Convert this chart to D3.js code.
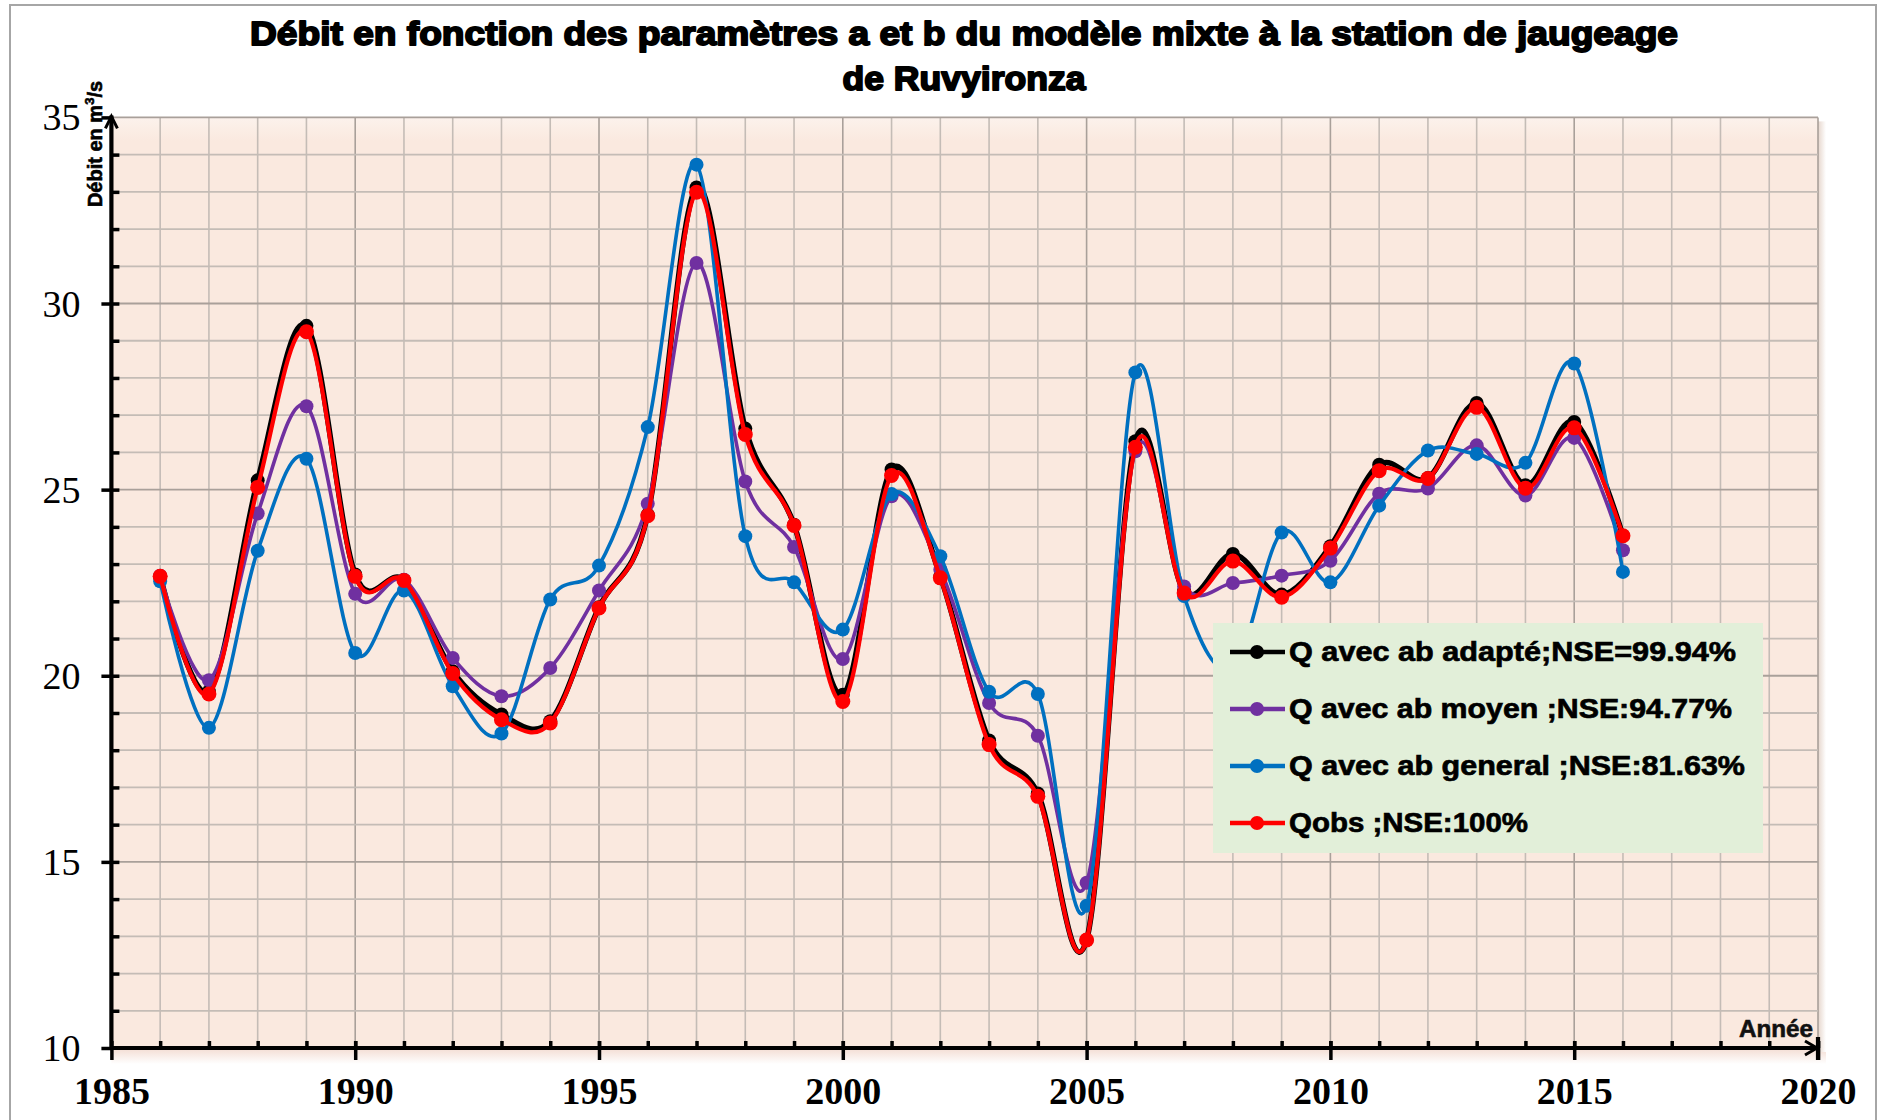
<!DOCTYPE html>
<html>
<head>
<meta charset="utf-8">
<script src="https://cdn.jsdelivr.net/npm/d3@7"></script>
<style>
  body { margin: 0; background: #fff; }
  svg { display: block; }
</style>
</head>
<body>
<svg id="chart" width="1878" height="1120"></svg>
<script>
var years = d3.range(1986, 2017);

var qAdapte = [22.67, 19.58, 25.25, 29.40, 22.72, 22.57, 20.12, 18.96, 18.78, 21.84, 24.33,
  33.12, 26.64, 24.06, 19.49, 25.54, 22.67, 18.26, 16.84, 12.90, 26.30, 22.27, 23.27, 22.18,
  23.48, 25.67, 25.31, 27.33, 25.12, 26.82, 23.76];
var qMoyen = [22.69, 19.88, 24.36, 27.24, 22.20, 22.58, 20.48, 19.45, 20.21, 22.29, 24.62,
  31.09, 25.22, 23.46, 20.45, 24.82, 22.85, 19.27, 18.39, 14.44, 26.03, 22.40, 22.49, 22.69,
  23.09, 24.89, 25.03, 26.19, 24.84, 26.39, 23.37];
var qGeneral = [22.54, 18.60, 23.36, 25.83, 20.61, 22.29, 19.72, 18.45, 22.05, 22.96, 26.68,
  33.73, 23.75, 22.51, 21.24, 24.88, 23.21, 19.57, 19.51, 13.82, 28.15, 22.14, 20.20, 23.85,
  22.51, 24.57, 26.05, 25.96, 25.72, 28.39, 22.79];
var qObs = [22.67, 19.51, 25.06, 29.24, 22.67, 22.56, 20.06, 18.82, 18.73, 21.82, 24.30,
  32.99, 26.48, 24.04, 19.31, 25.38, 22.63, 18.15, 16.76, 12.90, 26.14, 22.22, 23.08, 22.11,
  23.43, 25.51, 25.30, 27.21, 25.04, 26.66, 23.76];

var seriesNames = ["Q avec ab adapté;NSE=99.94%", "Q avec ab moyen ;NSE:94.77%",
  "Q avec ab general ;NSE:81.63%", "Qobs ;NSE:100%"];
var xTicks = [1985, 1990, 1995, 2000, 2005, 2010, 2015, 2020];
var yTicks = [10, 15, 20, 25, 30, 35];

var series = [
  { name: seriesNames[0], values: qAdapte, color: "#000000", width: 5.5, r: 7 },
  { name: seriesNames[1], values: qMoyen, color: "#7030a0", width: 3.6, r: 7 },
  { name: seriesNames[2], values: qGeneral, color: "#0070c0", width: 3.6, r: 7 },
  { name: seriesNames[3], values: qObs, color: "#ff0000", width: 4.2, r: 7.5 }
];

var svg = d3.select("#chart");
var plot = { left: 111.4, right: 1818, top: 117.4, bottom: 1048 };

var x = d3.scaleLinear().domain([1985, 2020]).range([plot.left, plot.right]);
var y = d3.scaleLinear().domain([10, 35]).range([plot.bottom, plot.top]);

// outer frame
svg.append("rect")
  .attr("x", 10).attr("y", 5).attr("width", 1866).attr("height", 1130)
  .attr("fill", "#fff").attr("stroke", "#a6a6a6").attr("stroke-width", 2);

var defs = svg.append("defs");
var bg = defs.append("linearGradient").attr("id", "plot-bg")
  .attr("x1", 0).attr("y1", 0).attr("x2", 0).attr("y2", 1);
bg.append("stop").attr("offset", "0%").attr("stop-color", "#fcf2ec");
bg.append("stop").attr("offset", "2.5%").attr("stop-color", "#fae9df");
bg.append("stop").attr("offset", "100%").attr("stop-color", "#fae9df");

var shade = defs.append("linearGradient").attr("id", "shade-bottom")
  .attr("x1", 0).attr("y1", 0).attr("x2", 0).attr("y2", 1);
shade.append("stop").attr("offset", "0%").attr("stop-color", "#f3dcd2");
shade.append("stop").attr("offset", "100%").attr("stop-color", "#ffffff");

var shadeR = defs.append("linearGradient").attr("id", "shade-right")
  .attr("x1", 0).attr("y1", 0).attr("x2", 1).attr("y2", 0);
shadeR.append("stop").attr("offset", "0%").attr("stop-color", "#e6d6cc");
shadeR.append("stop").attr("offset", "100%").attr("stop-color", "#ffffff");

// shadow + plot area
svg.append("rect")
  .attr("x", plot.left).attr("y", plot.bottom).attr("width", plot.right - plot.left + 8).attr("height", 16)
  .attr("fill", "url(#shade-bottom)");
svg.append("rect")
  .attr("x", plot.right).attr("y", plot.top + 4).attr("width", 8).attr("height", plot.bottom - plot.top)
  .attr("fill", "url(#shade-right)");
svg.append("rect")
  .attr("x", plot.left).attr("y", plot.top)
  .attr("width", plot.right - plot.left).attr("height", plot.bottom - plot.top)
  .attr("fill", "url(#plot-bg)");

// grid
var grid = svg.append("g");
grid.selectAll(".vgrid")
  .data(d3.range(1986, 2021))
  .enter().append("line")
    .attr("x1", function(d) { return x(d); })
    .attr("x2", function(d) { return x(d); })
    .attr("y1", plot.top).attr("y2", plot.bottom)
    .attr("stroke", function(d) { return d % 5 === 0 ? "#a9a09a" : "#c4bcb6"; })
    .attr("stroke-width", 1.6);
grid.selectAll(".hgrid")
  .data(d3.range(11, 36))
  .enter().append("line")
    .attr("x1", plot.left).attr("x2", plot.right)
    .attr("y1", function(d) { return y(d); })
    .attr("y2", function(d) { return y(d); })
    .attr("stroke", function(d) { return d % 5 === 0 ? "#a9a09a" : "#c4bcb6"; })
    .attr("stroke-width", 1.8);

// axes
var xMinor = svg.append("g")
  .attr("transform", "translate(0," + plot.bottom + ")")
  .call(d3.axisBottom(x).tickValues(d3.range(1986, 2021)).tickSize(-7).tickFormat(""));
var xMajor = svg.append("g")
  .attr("transform", "translate(0," + plot.bottom + ")")
  .call(d3.axisBottom(x).tickValues(xTicks).tickSize(12).tickPadding(17).tickFormat(d3.format("d")));
xMajor.selectAll(".tick line").attr("y1", -7);
xMajor.selectAll("text")
  .attr("font-family", "Liberation Serif, Times New Roman, serif")
  .attr("font-weight", "bold").attr("font-size", 38).attr("fill", "#000");

var yMinor = svg.append("g")
  .attr("transform", "translate(" + plot.left + ",0)")
  .call(d3.axisLeft(y).tickValues(d3.range(11, 35)).tickSize(-8).tickFormat(""));
var yMajor = svg.append("g")
  .attr("transform", "translate(" + plot.left + ",0)")
  .call(d3.axisLeft(y).tickValues(yTicks).tickSize(10).tickPadding(21));
yMajor.selectAll("text")
  .attr("font-family", "Liberation Serif, Times New Roman, serif")
  .attr("font-size", 38).attr("fill", "#000").attr("dy", "0.33em");

svg.selectAll(".domain").remove();
svg.selectAll(".tick line").attr("stroke", "#000").attr("stroke-width", 3.5);

// axis lines with arrows
var axisG = svg.append("g").attr("stroke", "#000").attr("fill", "none")
  .attr("stroke-width", 4.2);
axisG.append("line")
  .attr("x1", x(1985)).attr("x2", x(2020)).attr("y1", y(10)).attr("y2", y(10));
axisG.append("line")
  .attr("x1", x(1985)).attr("x2", x(1985)).attr("y1", y(10)).attr("y2", y(35) - 2);
axisG.append("path")
  .attr("stroke-width", 3)
  .attr("d", "M" + (x(1985) - 6) + "," + (y(35) + 11) + "L" + x(1985) + "," + (y(35) - 1) +
    "L" + (x(1985) + 6) + "," + (y(35) + 11));
axisG.append("path")
  .attr("stroke-width", 3)
  .attr("d", "M" + (x(2020) - 13) + "," + (y(10) - 7) + "L" + (x(2020) - 1) + "," + y(10) +
    "L" + (x(2020) - 13) + "," + (y(10) + 7));
axisG.append("line")
  .attr("x1", x(2020)).attr("x2", x(2020)).attr("y1", y(10) - 11).attr("y2", y(10) + 12);

// series
var line = d3.line()
  .x(function(d, i) { return x(years[i]); })
  .y(function(d) { return y(d); })
  .curve(d3.curveCatmullRom.alpha(0));

series.forEach(function(s) {
  var g = svg.append("g");
  g.append("path")
    .datum(s.values)
    .attr("d", line)
    .attr("fill", "none")
    .attr("stroke", s.color)
    .attr("stroke-width", s.width)
    .attr("stroke-linejoin", "round");
  g.selectAll("circle")
    .data(s.values)
    .enter().append("circle")
      .attr("cx", function(d, i) { return x(years[i]); })
      .attr("cy", function(d) { return y(d); })
      .attr("r", s.r)
      .attr("fill", s.color);
});

// legend
var legend = svg.append("g");
legend.append("rect")
  .attr("x", 1213).attr("y", 623).attr("width", 550).attr("height", 230)
  .attr("fill", "#e2efd9");
var legendWidths = [447, 443, 456, 239];
series.forEach(function(s, i) {
  var cy = 652 + i * 57;
  legend.append("line")
    .attr("x1", 1230).attr("x2", 1285).attr("y1", cy).attr("y2", cy)
    .attr("stroke", s.color).attr("stroke-width", 4.5);
  legend.append("circle")
    .attr("cx", 1257).attr("cy", cy).attr("r", 7).attr("fill", s.color);
  legend.append("text")
    .attr("x", 1289).attr("y", cy + 9)
    .attr("font-family", "Liberation Sans, Arial, sans-serif")
    .attr("font-weight", "bold").attr("font-size", 28)
    .attr("textLength", legendWidths[i]).attr("lengthAdjust", "spacingAndGlyphs")
    .attr("fill", "#000").attr("stroke", "#000").attr("stroke-width", 0.7)
    .text(s.name);
});

// title
var title = svg.append("g")
  .attr("font-family", "Liberation Sans, Arial, sans-serif")
  .attr("font-weight", "bold").attr("font-size", 34)
  .attr("text-anchor", "middle").attr("fill", "#000")
  .attr("stroke", "#000").attr("stroke-width", 1.9).attr("stroke-linejoin", "round");
title.append("text").attr("x", 964).attr("y", 45)
  .attr("textLength", 1428).attr("lengthAdjust", "spacingAndGlyphs")
  .text("Débit en fonction des paramètres a et b du modèle mixte à la station de jaugeage");
title.append("text").attr("x", 964).attr("y", 90)
  .attr("textLength", 243).attr("lengthAdjust", "spacingAndGlyphs")
  .text("de Ruvyironza");

// axis titles
var yTitle = svg.append("text")
  .attr("transform", "translate(101.5,144) rotate(-90)")
  .attr("text-anchor", "middle")
  .attr("font-family", "Liberation Sans, Arial, sans-serif")
  .attr("font-weight", "bold").attr("font-size", 20).attr("fill", "#000")
  .attr("stroke", "#000").attr("stroke-width", 0.6);
yTitle.append("tspan").text("Débit en m");
yTitle.append("tspan").attr("dy", -8).attr("font-size", 13).text("3");
yTitle.append("tspan").attr("dy", 8).text("/s");

svg.append("text")
  .attr("x", 1813).attr("y", 1037)
  .attr("text-anchor", "end")
  .attr("font-family", "Liberation Sans, Arial, sans-serif")
  .attr("font-weight", "bold").attr("font-size", 24)
  .attr("textLength", 74).attr("lengthAdjust", "spacingAndGlyphs")
  .attr("fill", "#111").attr("stroke", "#111").attr("stroke-width", 0.6)
  .text("Année");
</script>
</body>
</html>
